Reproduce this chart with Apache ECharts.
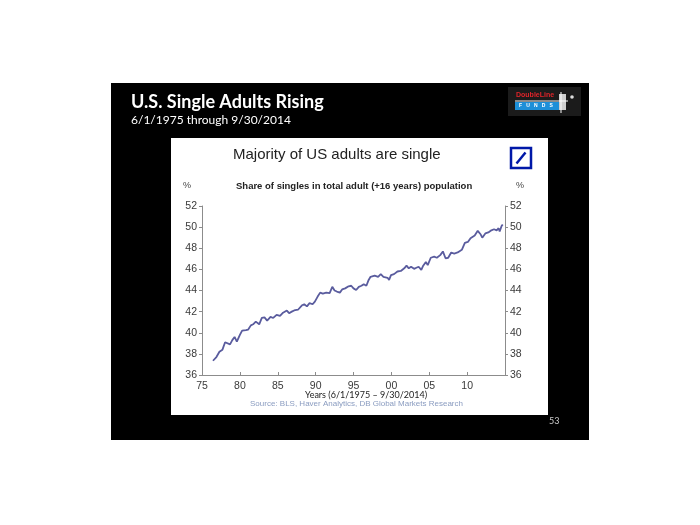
<!DOCTYPE html>
<html>
<head>
<meta charset="utf-8">
<script src="https://cdn.jsdelivr.net/npm/echarts@6/dist/echarts.min.js"></script>
<style>
html,body{margin:0;padding:0;background:#fff;}
#c{width:700px;height:525px;}
</style>
</head>
<body>
<div id="c"></div>
<script>
// ---- data ----
var years = [1976.45,1976.9,1977.3,1977.7,1978.05,1978.3,1978.7,1979.0,1979.3,1979.6,
1980.0,1980.3,1980.8,1981.1,1981.45,1981.75,1982.1,1982.55,1982.9,1983.25,1983.6,
1984.05,1984.4,1984.85,1985.3,1985.7,1986.2,1986.5,1986.85,1987.3,1987.7,1988.2,1988.5,
1988.85,1989.2,1989.6,1989.9,1990.25,1990.6,1990.95,1991.4,1991.85,1992.2,1992.5,1992.8,
1993.2,1993.5,1993.9,1994.35,1994.7,1995.0,1995.35,1995.7,1996.05,1996.35,1996.7,1997.0,
1997.25,1997.45,1997.8,1998.25,1998.6,1998.95,1999.2,1999.5,1999.7,1999.95,2000.35,2000.8,
2001.25,2001.7,2002.0,2002.3,2002.6,2003.0,2003.3,2003.6,2003.95,2004.2,2004.55,2004.8,
2005.2,2005.65,2006.0,2006.45,2006.8,2007.15,2007.5,2007.9,2008.3,2008.75,2009.3,2009.55,
2009.7,2010.1,2010.45,2011.0,2011.4,2011.8,2012.0,2012.4,2012.8,2013.2,2013.55,2013.9,
2014.15,2014.3,2014.55,2014.7];
var singlesShare = [37.35,37.7,38.2,38.4,39.1,39.2,38.9,39.3,39.6,39.15,
39.8,40.2,40.25,40.3,40.7,40.8,41.05,40.8,41.4,41.45,41.15,
41.5,41.4,41.7,41.6,41.9,42.1,41.85,42.0,42.15,42.2,42.6,42.7,
42.5,42.8,42.7,42.95,43.4,43.8,43.7,43.8,43.75,44.35,44.0,43.9,
43.8,44.1,44.2,44.4,44.45,44.2,44.05,44.35,44.45,44.6,44.45,45.0,
45.3,45.15,45.4,45.3,45.55,45.3,45.4,45.2,45.0,45.45,45.55,45.8,
45.85,46.1,46.35,46.1,46.25,46.05,46.15,46.25,45.95,46.35,46.7,46.4,
47.1,47.2,47.1,47.35,47.7,47.05,47.1,47.6,47.5,47.6,47.85,48.0,
48.5,48.6,48.95,49.2,49.65,49.3,49.0,49.4,49.5,49.7,49.8,49.7,
49.9,49.6,50.1,50.25];
var yTicks = [36,38,40,42,44,46,48,50,52];
var xTickYears = [1975,1980,1985,1990,1995,2000,2005,2010];

var seriesData = years.map(function(y,i){return [y, singlesShare[i]];});

var chart = echarts.init(document.getElementById('c'), null, {renderer:'canvas'});
var axisGrey = '#8c8c8c';
var labelCol = '#3a3a3a';
var yAxisCommon = {
  type:'value', min:36, max:52, interval:2,
  axisLine:{show:true, lineStyle:{color:axisGrey, width:1}},
  axisTick:{show:true, inside:false, length:3, lineStyle:{color:axisGrey}},
  splitLine:{show:false},
  axisLabel:{color:labelCol, fontFamily:'Arial, Liberation Sans', fontSize:10.5, margin:5}
};
var option = {
  animation:false,
  backgroundColor:'#ffffff',
  grid:{left:202, right:195, top:206, bottom:150},
  xAxis:{
    type:'value', min:1975, max:2015, interval:5,
    axisLine:{show:true, onZero:false, lineStyle:{color:axisGrey}},
    axisTick:{show:true, inside:true, length:3, lineStyle:{color:axisGrey}},
    splitLine:{show:false},
    axisLabel:{color:labelCol, fontFamily:'Arial, Liberation Sans', fontSize:10.5, margin:6,
      formatter:function(v){ if (xTickYears.indexOf(v) < 0) return ''; var s=String(v%100); return s.length<2?'0'+s:s; }}
  },
  yAxis:[
    Object.assign({position:'left'}, yAxisCommon),
    Object.assign({position:'right'}, yAxisCommon)
  ],
  series:[{
    type:'line', data:seriesData, showSymbol:false, symbol:'none',
    lineStyle:{color:'#5a5c9e', width:1.8}, smooth:false
  }],
  graphic:[
    // slide background
    {type:'rect', z:-10, shape:{x:111,y:83,width:478,height:357}, style:{fill:'#000'}},
    // white chart panel
    {type:'rect', z:-9, shape:{x:171,y:138,width:377,height:277}, style:{fill:'#fff'}},
    // slide title
    {type:'text', left:131, top:93, style:{text:'U.S. Single Adults Rising', fill:'#fff', font:'bold 18px Lato, "Open Sans", sans-serif'}},
    {type:'text', left:131, top:114, style:{text:'6/1/1975 through 9/30/2014', fill:'#fff', font:'12px Lato, "Open Sans", sans-serif'}},
    // page number
    {type:'text', left:549, top:417, style:{text:'53', fill:'#ccc', font:'9px Lato, sans-serif'}},
    // DoubleLine logo
    {type:'rect', shape:{x:508,y:87,width:73,height:29}, style:{fill:'#1b1b1b'}},
    {type:'text', left:516, top:92, style:{text:'DoubleLine', fill:'#e0242a', font:'bold 7px Arial, sans-serif'}},
    {type:'rect', shape:{x:515,y:102,width:44,height:8}, style:{fill:'#1d8fd8'}},
    {type:'text', left:519, top:103, style:{text:'F   U   N   D   S', fill:'#fff', font:'bold 5px Arial, sans-serif'}},
    {type:'rect', shape:{x:559,y:94,width:7,height:16}, style:{fill:'#cfcfcf'}},
    {type:'line', shape:{x1:515,y1:101,x2:568,y2:101}, style:{stroke:'#fff', lineWidth:1}},
    {type:'line', shape:{x1:561,y1:92,x2:561,y2:113}, style:{stroke:'#fff', lineWidth:1}},
    {type:'circle', shape:{cx:572,cy:97,r:1.8}, style:{fill:'#ddd'}},
    // chart header
    {type:'text', left:233, top:147, style:{text:'Majority of US adults are single', fill:'#222', font:'15px Arial, "Liberation Sans", sans-serif'}},
    // DB logo
    {type:'rect', shape:{x:511,y:148,width:20,height:20}, style:{fill:'#fff', stroke:'#0018a8', lineWidth:2.5}},
    {type:'line', shape:{x1:516.5,y1:163.5,x2:525.5,y2:152.5}, style:{stroke:'#0018a8', lineWidth:2.5}},
    {type:'text', left:183, top:181, style:{text:'%', fill:'#444', font:'9px Arial, sans-serif'}},
    {type:'text', left:516, top:181, style:{text:'%', fill:'#444', font:'9px Arial, sans-serif'}},
    {type:'text', left:236, top:181, style:{text:'Share of singles in total adult (+16 years) population', fill:'#222', font:'bold 9.5px Arial, "Liberation Sans", sans-serif'}},
    // footer texts
    {type:'text', left:305, top:391, style:{text:'Years (6/1/1975 \u2013 9/30/2014)', fill:'#222', font:'9px Lato, "Open Sans", sans-serif'}},
    {type:'text', left:250, top:400, style:{text:'Source: BLS, Haver Analytics, DB Global Markets Research', fill:'#8a9cc0', font:'8px Arial, "Liberation Sans", sans-serif'}}
  ]
};
chart.setOption(option);
</script>
</body>
</html>
